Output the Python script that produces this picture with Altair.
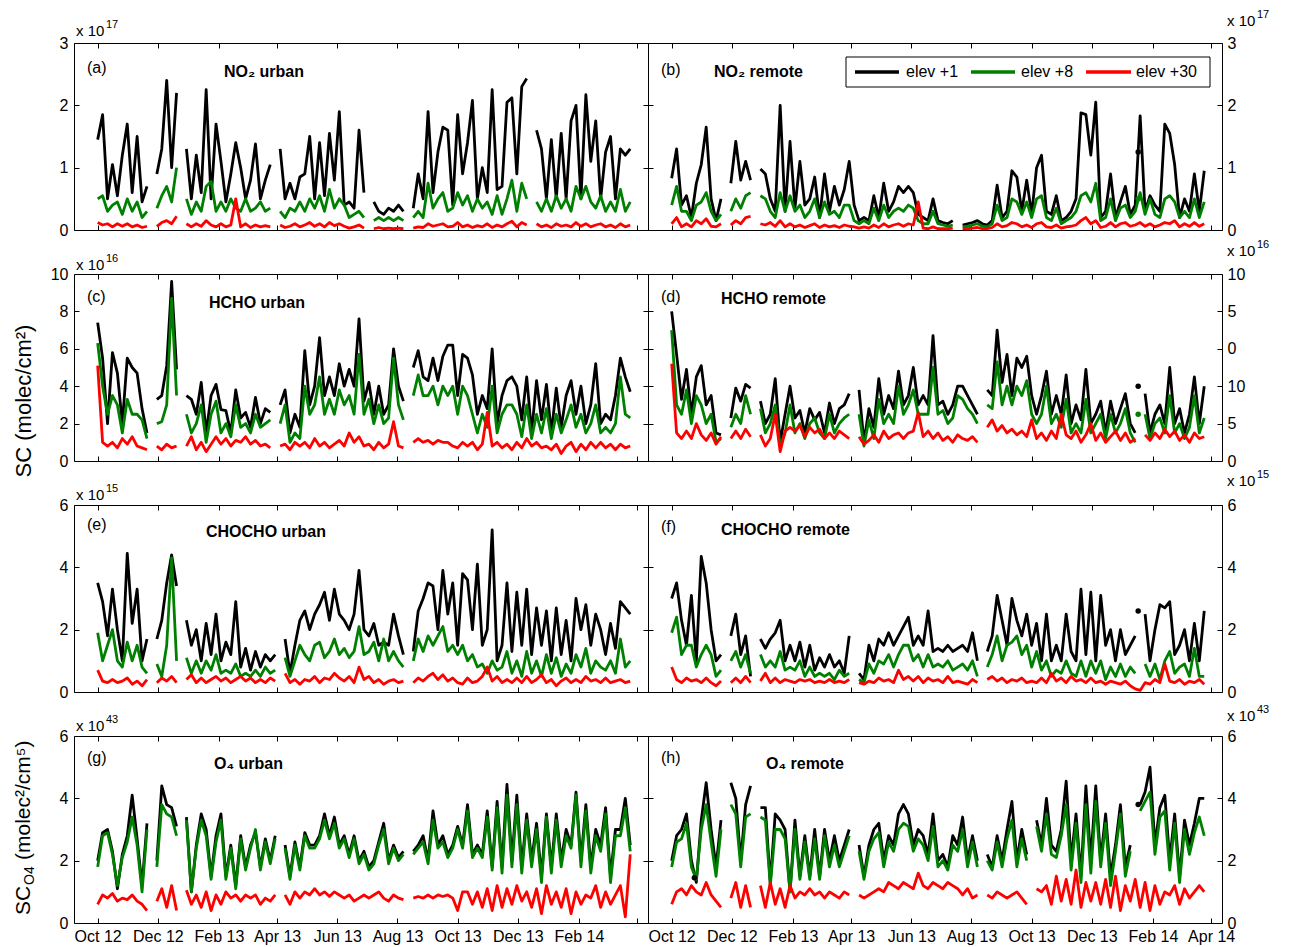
import altair as alt
import pandas as pd

N = None
DAYS = list(range(0, 545, 5))  # days since 1 Oct 2012, 5-day steps
TICK_DAYS = [0, 61, 123, 182, 243, 304, 365, 426, 488, 547]
TICK_LABELS = ["Oct 12", "Dec 12", "Feb 13", "Apr 13", "Jun 13", "Aug 13",
               "Oct 13", "Dec 13", "Feb 14", "Apr 14"]
SERIES_NAMES = ["elev +1", "elev +8", "elev +30"]
SERIES_COLORS = ["#000000", "#008000", "#ff0000"]

# ---------------- (a) NO2 urban  (x 1e17) ----------------
A_K = [1.45, 1.85, 0.5, 1.05, 0.55, 1.2, 1.7, 0.6, 1.5, 0.45, 0.7, N,
       0.9, 1.3, 2.4, 1.0, 2.2, N, 1.3, 0.5, 1.2, 0.6, 2.25, 0.5, 1.7,
       1.1, 0.45, 0.9, 1.4, 1.0, 0.5, 0.8, 1.38, 0.5, 0.8, 1.05, N,
       1.3, 0.5, 0.75, 0.5, 0.85, 0.9, 1.5, 0.5, 1.4, 0.55, 1.55, 0.8,
       1.9, 0.4, 0.45, 0.35, 1.6, 0.6, N, 0.45, 0.3, 0.25, 0.35, 0.3,
       0.4, 0.3, N, 0.35, 0.9, 0.5, 1.9, 0.6, 1.25, 1.65, 1.6, 0.4,
       1.85, 0.9, 1.4, 2.08, 0.5, 1.0, 0.6, 2.25, 0.65, 0.7, 2.05, 2.12,
       0.9, 2.3, 2.43, N, 1.6, 1.3, 0.5, 1.45, 0.5, 1.55, 0.5, 1.75, 2.0,
       0.5, 2.17, 1.1, 1.75, 0.5, 1.25, 1.5, 0.5, 1.3, 1.2, 1.3]
A_G = [0.5, 0.55, 0.3, 0.4, 0.45, 0.25, 0.5, 0.3, 0.45, 0.2, 0.3, N,
       0.35, 0.55, 0.7, 0.45, 1.0, N, 0.5, 0.25, 0.45, 0.3, 0.7, 0.78, 0.3,
       0.45, 0.3, 0.5, 0.35, 0.3, 0.5, 0.3, 0.35, 0.45, 0.3, 0.35, N,
       0.3, 0.2, 0.35, 0.3, 0.45, 0.3, 0.5, 0.35, 0.55, 0.3, 0.65, 0.35,
       0.5, 0.4, 0.2, 0.25, 0.3, 0.2, N, 0.15, 0.2, 0.15, 0.2, 0.15,
       0.2, 0.15, N, 0.2, 0.3, 0.2, 0.75, 0.35, 0.5, 0.6, 0.3, 0.35,
       0.6, 0.4, 0.55, 0.3, 0.5, 0.35, 0.45, 0.25, 0.55, 0.25, 0.5, 0.8,
       0.3, 0.75, 0.5, N, 0.45, 0.3, 0.5, 0.3, 0.55, 0.35, 0.5, 0.3, 0.7,
       0.5, 0.7, 0.45, 0.35, 0.55, 0.3, 0.45, 0.3, 0.65, 0.3, 0.45]
A_R = [0.12, 0.08, 0.1, 0.05, 0.1, 0.06, 0.1, 0.05, 0.08, 0.04, 0.06, N,
       0.06, 0.12, 0.15, 0.1, 0.22, N, 0.1, 0.05, 0.1, 0.06, 0.15, 0.08, 0.05,
       0.1, 0.05, 0.08, 0.5, 0.05, 0.1, 0.04, 0.08, 0.05, 0.07, 0.05, N,
       0.08, 0.04, 0.06, 0.1, 0.05, 0.08, 0.12, 0.06, 0.1, 0.05, 0.12, 0.07,
       0.1, 0.06, 0.03, 0.05, 0.08, 0.03, N, 0.02, 0.04, 0.02, 0.03, 0.02,
       0.03, 0.02, N, 0.03, 0.05, 0.04, 0.1, 0.06, 0.08, 0.1, 0.05, 0.06,
       0.12, 0.05, 0.08, 0.04, 0.07, 0.05, 0.1, 0.04, 0.08, 0.05, 0.1, 0.14,
       0.05, 0.12, 0.08, N, 0.1, 0.05, 0.08, 0.04, 0.1, 0.06, 0.08, 0.05, 0.12,
       0.06, 0.1, 0.05, 0.08, 0.1, 0.05, 0.08, 0.04, 0.1, 0.05, 0.08]

# ---------------- (b) NO2 remote (x 1e17) ----------------
B_K = [0.83, 1.3, 0.4, 0.55, 0.2, 0.75, 1.05, 1.65, 0.5, 0.15, 0.5, N,
       0.75, 1.42, 0.8, 1.1, 0.8, N, 0.98, 0.9, 0.5, 0.3, 2.0, 0.3, 1.42,
       0.35, 1.1, 0.4, 0.5, 0.85, 0.2, 0.9, 0.3, 0.7, 0.4, 0.65, 1.1,
       0.4, 0.15, 0.2, 0.15, 0.55, 0.2, 0.75, 0.3, 0.45, 0.7, 0.6, 0.7,
       0.6, 0.25, 0.2, 0.15, 0.5, 0.15, 0.12, 0.1, 0.15, N, 0.08, 0.1,
       0.12, 0.15, 0.1, 0.08, 0.15, 0.72, 0.2, 0.3, 0.95, 0.85, 0.3, 0.8,
       0.25, 1.0, 1.2, 0.3, 0.25, 0.55, 0.15, 0.2, 0.3, 0.5, 1.88, 1.85,
       1.2, 2.05, 0.2, 0.3, 0.9, 0.2, 0.45, 0.7, 0.25, 0.4, 1.83, 0.3, 0.55,
       0.4, 0.3, 1.7, 1.55, 1.05, 0.2, 0.5, 0.3, 0.9, 0.3, 0.95]
B_G = [0.4, 0.7, 0.3, 0.3, 0.15, 0.4, 0.45, 0.6, 0.3, 0.15, 0.25, N,
       0.3, 0.5, 0.35, 0.55, 0.6, N, 0.55, 0.5, 0.3, 0.2, 0.6, 0.3, 0.55,
       0.3, 0.4, 0.2, 0.3, 0.5, 0.2, 0.45, 0.25, 0.3, 0.2, 0.4, 0.4,
       0.15, 0.1, 0.15, 0.1, 0.35, 0.15, 0.4, 0.2, 0.3, 0.35, 0.3, 0.4,
       0.35, 0.15, 0.1, 0.1, 0.3, 0.1, 0.08, 0.06, 0.08, N, 0.05, 0.06,
       0.08, 0.1, 0.06, 0.05, 0.1, 0.4, 0.15, 0.2, 0.5, 0.45, 0.25, 0.45,
       0.2, 0.5, 0.55, 0.2, 0.15, 0.35, 0.1, 0.15, 0.2, 0.3, 0.55, 0.6,
       0.45, 0.75, 0.15, 0.2, 0.5, 0.15, 0.35, 0.4, 0.2, 0.3, 0.6, 0.25, 0.5,
       0.25, 0.2, 0.5, 0.55, 0.45, 0.2, 0.3, 0.2, 0.5, 0.2, 0.45]
B_R = [0.1, 0.2, 0.05, 0.1, 0.05, 0.15, 0.1, 0.18, 0.06, 0.05, 0.1, N,
       0.08, 0.15, 0.1, 0.2, 0.22, N, 0.1, 0.08, 0.12, 0.06, 0.15, 0.05, 0.1,
       0.05, 0.08, 0.04, 0.07, 0.1, 0.04, 0.08, 0.05, 0.07, 0.04, 0.08, 0.06,
       0.05, 0.03, 0.05, 0.03, 0.08, 0.04, 0.1, 0.05, 0.08, 0.1, 0.06, 0.1,
       0.08, 0.45, 0.03, 0.02, 0.05, 0.02, 0.02, 0.02, 0.03, N, 0.02, 0.02,
       0.03, 0.04, 0.02, 0.02, 0.04, 0.1, 0.05, 0.07, 0.12, 0.1, 0.05, 0.08,
       0.04, 0.1, 0.12, 0.05, 0.04, 0.08, 0.03, 0.05, 0.06, 0.08, 0.15, 0.2,
       0.1, 0.15, 0.04, 0.06, 0.12, 0.05, 0.1, 0.12, 0.06, 0.08, 0.12, 0.06, 0.1,
       0.05, 0.08, 0.12, 0.1, 0.15, 0.05, 0.1, 0.06, 0.12, 0.06, 0.1]

# ---------------- (c) HCHO urban (x 1e16) ----------------
C_K = [7.4, 5.5, 2.0, 5.8, 4.7, 2.0, 5.5, 5.0, 4.7, 2.8, 1.5, N,
       3.3, 3.5, 5.1, 9.6, 4.9, N, 3.5, 3.3, 2.5, 4.2, 1.5, 3.5, 4.1,
       2.75, 2.7, 1.5, 3.8, 2.3, 2.6, 1.8, 3.4, 2.0, 2.8, 2.6, N,
       3.0, 3.8, 1.5, 2.5, 1.8, 5.9, 3.0, 4.0, 6.6, 3.5, 4.5, 3.5,
       5.2, 4.0, 4.9, 4.0, 7.6, 3.2, 4.2, 2.5, 4.0, 2.5, 3.0, 6.0,
       4.0, 3.2, N, 5.0, 5.9, 4.5, 4.3, 5.5, 4.3, 5.6, 6.2, 6.2,
       3.5, 5.7, 5.5, 4.6, 2.5, 3.5, 2.8, 6.0, 2.0, 3.5, 4.3, 4.5,
       4.0, 2.2, 4.5, 1.5, 4.3, 2.2, 4.1, 1.5, 3.9, 1.8, 3.5, 4.3, 2.5,
       4.0, 2.0, 3.0, 5.2, 2.0, 2.5, 2.2, 3.5, 5.5, 4.5, 3.7]
C_G = [6.3, 4.0, 2.5, 3.5, 3.0, 1.5, 3.3, 2.5, 2.5, 2.2, 1.2, N,
       2.0, 2.1, 3.0, 8.7, 3.5, N, 2.5, 1.5, 2.0, 3.0, 1.0, 2.5, 3.2,
       1.5, 2.0, 1.3, 3.0, 1.8, 2.0, 1.5, 2.5, 1.8, 2.0, 2.2, N,
       2.0, 3.0, 1.0, 1.5, 1.2, 4.0, 2.5, 3.0, 4.5, 2.5, 3.3, 2.5,
       3.8, 3.0, 3.5, 2.5, 5.7, 2.5, 3.3, 2.0, 3.0, 2.0, 2.3, 5.5,
       3.0, 2.2, N, 3.5, 4.6, 3.5, 3.5, 4.0, 3.0, 4.0, 3.5, 4.0,
       2.5, 4.0, 3.5, 2.5, 1.5, 2.5, 1.8, 4.0, 1.5, 2.5, 3.0, 3.0,
       2.5, 1.3, 3.0, 1.2, 2.5, 1.5, 2.8, 1.2, 2.5, 1.5, 2.2, 3.0, 1.8,
       2.5, 1.5, 2.0, 3.0, 1.5, 1.8, 1.5, 2.0, 4.5, 2.5, 2.3]
C_R = [5.1, 1.0, 0.8, 1.0, 0.7, 1.2, 0.9, 1.3, 0.8, 0.7, 0.6, N,
       0.8, 0.6, 0.9, 0.7, 0.8, N, 0.8, 1.3, 0.6, 1.0, 0.5, 0.9, 1.3,
       0.9, 1.2, 0.8, 1.1, 1.0, 1.3, 0.9, 1.1, 0.8, 0.9, 0.7, N,
       0.8, 0.9, 0.6, 1.0, 0.8, 1.0, 0.7, 1.2, 0.8, 1.0, 0.7, 0.9,
       1.1, 0.8, 1.5, 1.0, 1.3, 0.8, 0.9, 0.6, 1.0, 0.7, 0.9, 2.1,
       0.8, 0.7, N, 1.0, 1.2, 1.0, 1.1, 0.9, 1.1, 1.0, 1.0, 0.8,
       0.7, 1.0, 0.8, 1.0, 0.6, 0.9, 2.6, 0.8, 1.0, 0.7, 0.9, 0.6,
       1.0, 0.7, 1.2, 0.8, 1.0, 0.7, 0.8, 0.6, 0.9, 0.4, 0.8, 1.0, 0.5,
       0.9, 0.6, 1.0, 0.7, 1.0, 0.7, 0.9, 0.6, 0.9, 0.7, 0.8]

# ---------------- (d) HCHO remote (plotted on 0-10 frame) ----------------
D_K = [8.0, 5.7, 3.3, 4.9, 2.5, 4.5, 5.1, 3.0, 3.5, 1.5, 1.4, N,
       2.3, 3.9, 3.2, 4.1, 3.9, N, 3.2, 2.0, 2.5, 4.4, 1.0, 2.5, 4.0,
       2.3, 2.7, 1.5, 2.8, 2.2, 2.6, 1.5, 3.1, 2.0, 2.8, 3.0, 3.6,
       N, 3.8, 1.0, 2.8, 1.8, 4.4, 2.5, 3.5, 2.8, 4.8, 3.0, 3.5,
       5.0, 3.0, 3.5, 3.0, 6.7, 3.0, 3.2, 2.5, 3.0, 4.0, 4.0, 3.5,
       3.0, 2.5, N, 3.8, 3.5, 7.0, 4.2, 5.7, 3.5, 5.5, 5.0, 5.6,
       3.5, 2.5, 3.5, 4.8, 2.5, 3.5, 2.5, 4.6, 2.0, 3.0, 2.2, 4.9,
       2.0, 2.5, 3.2, 1.5, 3.2, 2.0, 2.8, 3.6, 2.0, 1.5, N, 3.6, 1.5,
       2.5, 3.0, 2.0, 5.0, 2.0, 2.8, 1.5, 2.5, 4.5, 2.0, 4.0]
D_G = [7.0, 3.0, 2.5, 3.8, 2.0, 3.5, 3.0, 2.0, 2.5, 1.0, 1.2, N,
       1.8, 2.5, 2.0, 3.5, 2.5, N, 2.8, 1.5, 2.0, 3.0, 0.8, 1.5, 3.0,
       1.5, 2.0, 1.2, 2.0, 2.3, 1.5, 1.2, 2.5, 1.5, 2.0, 2.3, 2.5,
       N, 2.5, 0.8, 2.2, 1.2, 3.3, 2.0, 2.5, 2.0, 4.0, 2.5, 3.0,
       3.8, 2.5, 2.5, 2.5, 5.0, 2.5, 2.7, 2.0, 2.3, 3.5, 3.3, 2.8,
       2.5, 2.0, N, 3.0, 2.8, 5.3, 3.0, 4.0, 3.0, 4.0, 3.5, 4.3,
       2.5, 2.0, 2.5, 4.0, 2.0, 2.5, 1.8, 3.3, 1.5, 2.0, 1.5, 3.3,
       1.5, 2.0, 2.5, 1.2, 2.5, 1.5, 2.0, 2.8, 1.5, 1.0, N, 2.5, 1.2,
       2.0, 2.3, 1.5, 3.5, 1.5, 2.0, 1.2, 1.8, 3.5, 1.5, 2.3]
D_R = [5.2, 1.5, 1.2, 1.6, 1.2, 2.0, 1.4, 1.1, 1.5, 0.9, 1.3, N,
       1.2, 1.6, 1.2, 1.7, 1.3, N, 1.4, 0.8, 1.2, 2.5, 0.5, 1.6, 1.8,
       1.6, 1.9, 1.3, 1.8, 1.5, 1.7, 1.2, 1.5, 1.2, 1.6, 1.4, 1.2,
       N, 1.3, 0.9, 1.1, 1.4, 1.0, 1.6, 1.2, 1.4, 1.5, 1.2, 1.5,
       1.6, 2.6, 1.3, 1.6, 1.2, 1.5, 1.1, 1.3, 1.0, 1.4, 1.2, 1.1,
       1.3, 1.0, N, 1.8, 2.2, 1.6, 1.9, 1.5, 1.7, 1.4, 1.6, 1.3,
       2.2, 1.2, 1.5, 1.1, 1.6, 1.2, 2.5, 1.4, 1.2, 1.6, 1.0, 1.4,
       2.0, 1.1, 1.5, 1.0, 1.3, 1.6, 1.1, 1.5, 1.0, 1.2, N, 1.4, 1.1,
       1.5, 1.2, 1.7, 1.3, 1.6, 1.1, 1.4, 1.0, 1.5, 1.2, 1.3]

# ---------------- (e) CHOCHO urban (x 1e15) ----------------
E_K = [3.5, 2.9, 1.8, 3.3, 2.0, 1.0, 4.45, 2.2, 3.3, 1.0, 1.7, N,
       1.7, 2.3, 3.5, 4.4, 3.4, N, 2.3, 1.5, 2.0, 1.0, 2.2, 1.2, 2.5,
       1.0, 1.6, 1.2, 2.9, 0.8, 1.4, 0.7, 1.3, 0.8, 1.2, 1.0, 1.2,
       N, 1.7, 0.6, 1.5, 2.3, 2.6, 2.0, 2.5, 2.8, 3.2, 2.3, 3.3,
       2.5, 2.3, 2.0, 2.5, 3.9, 2.0, 1.8, 2.2, 1.5, 1.6, 1.5, 2.5,
       1.8, 1.2, N, 1.3, 2.6, 3.0, 3.5, 3.4, 2.0, 3.9, 2.5, 3.5,
       1.5, 3.8, 3.6, 2.0, 4.1, 1.5, 2.0, 5.2, 1.0, 1.5, 3.5, 1.3,
       3.2, 1.5, 3.3, 1.2, 2.7, 1.5, 2.6, 1.0, 2.7, 1.2, 2.3, 1.0, 3.0,
       2.0, 2.8, 1.5, 2.5, 2.0, 1.2, 2.2, 1.4, 2.9, 2.7, 2.5]
E_G = [1.9, 1.0, 1.5, 2.0, 1.0, 0.8, 1.6, 1.0, 1.5, 0.8, 0.6, N,
       0.9, 0.5, 1.5, 4.3, 1.0, N, 1.1, 0.6, 1.0, 0.6, 1.0, 0.7, 1.2,
       0.6, 0.7, 0.6, 0.9, 0.5, 0.6, 0.5, 0.7, 0.5, 0.8, 0.6, 0.7,
       N, 1.1, 0.5, 1.0, 1.5, 1.2, 1.0, 1.5, 1.6, 1.1, 1.3, 1.7,
       1.2, 1.4, 1.1, 1.3, 2.1, 1.2, 1.3, 1.6, 1.0, 1.7, 1.0, 1.3,
       1.0, 0.8, N, 1.0, 1.7, 1.3, 1.8, 1.5, 1.8, 2.1, 1.3, 1.5,
       1.2, 1.5, 1.0, 1.2, 0.8, 0.9, 0.6, 1.0, 0.7, 0.8, 1.3, 0.6,
       1.0, 0.5, 1.3, 0.6, 1.0, 0.5, 1.2, 0.6, 1.1, 0.5, 0.9, 0.6, 1.2,
       0.8, 1.4, 0.6, 1.0, 0.8, 0.7, 1.0, 0.6, 1.7, 0.8, 1.0]
E_R = [0.7, 0.35, 0.3, 0.4, 0.3, 0.35, 0.45, 0.25, 0.35, 0.2, 0.4, N,
       0.3, 0.45, 0.35, 0.5, 0.3, N, 0.4, 0.55, 0.3, 0.45, 0.3, 0.4, 0.5,
       0.35, 0.45, 0.3, 0.4, 0.5, 0.35, 0.45, 0.3, 0.4, 0.3, 0.45, 0.35,
       N, 0.6, 0.3, 0.4, 0.25, 0.4, 0.35, 0.5, 0.3, 0.45, 0.4, 0.6,
       0.45, 0.35, 0.5, 0.3, 0.8, 0.4, 0.5, 0.3, 0.4, 0.25, 0.35, 0.4,
       0.3, 0.35, N, 0.3, 0.45, 0.35, 0.5, 0.6, 0.4, 0.55, 0.35, 0.45,
       0.3, 0.25, 0.45, 0.3, 0.35, 0.5, 0.8, 0.35, 0.5, 0.3, 0.4, 0.3,
       0.45, 0.3, 0.5, 0.3, 0.4, 0.55, 0.3, 0.4, 0.2, 0.35, 0.45, 0.3, 0.4,
       0.3, 0.5, 0.35, 0.4, 0.3, 0.45, 0.3, 0.35, 0.4, 0.3, 0.35]

# ---------------- (f) CHOCHO remote (x 1e15) ----------------
F_K = [3.0, 3.5, 2.3, 1.5, 3.1, 1.0, 4.35, 3.5, 2.0, 1.0, 1.2, N,
       1.8, 2.5, 1.2, 1.8, 0.5, N, 1.7, 1.4, 1.7, 1.9, 2.3, 1.0, 1.5,
       1.0, 1.6, 0.8, 1.5, 0.7, 1.1, 0.8, 1.2, 0.8, 1.0, 0.6, 1.8,
       N, 0.6, 0.4, 1.5, 1.0, 1.7, 1.5, 1.9, 1.5, 1.8, 2.1, 2.4,
       1.5, 1.8, 1.5, 2.6, 1.3, 1.4, 1.3, 1.5, 1.3, 1.4, 1.5, 1.3,
       1.9, 1.0, N, 1.3, 1.8, 3.1, 2.3, 1.5, 3.0, 2.3, 1.8, 2.5,
       1.5, 2.2, 1.0, 2.5, 1.0, 1.5, 1.0, 2.5, 1.3, 1.0, 3.3, 1.2,
       3.2, 1.0, 3.1, 1.5, 2.0, 1.0, 2.0, 1.2, 1.5, 1.8, N, 2.5, 1.0,
       2.0, 2.8, 2.7, 2.9, 1.2, 1.5, 2.0, 1.0, 2.2, 1.0, 2.6]
F_G = [1.9, 2.4, 1.2, 1.5, 1.5, 0.8, 1.2, 1.5, 1.2, 0.5, 0.7, N,
       1.0, 1.3, 0.8, 1.2, 0.6, N, 1.2, 0.8, 1.0, 0.8, 1.3, 0.7, 0.8,
       0.7, 1.0, 0.5, 0.8, 0.5, 0.6, 0.5, 0.6, 0.4, 0.7, 0.5, 0.6,
       N, 0.4, 0.3, 0.9, 0.6, 1.0, 0.9, 1.2, 0.8, 1.2, 1.5, 1.5,
       1.0, 1.2, 0.8, 1.2, 0.8, 0.9, 0.8, 1.0, 0.7, 0.8, 0.9, 0.7,
       1.0, 0.5, N, 0.8, 1.2, 1.8, 1.0, 1.5, 1.6, 1.8, 1.2, 1.5,
       0.8, 1.3, 0.7, 1.0, 0.5, 0.7, 0.6, 1.0, 0.6, 0.5, 1.0, 0.5,
       1.0, 0.6, 1.0, 0.4, 0.8, 0.5, 0.9, 0.5, 0.8, 0.6, N, 0.9, 0.5,
       0.9, 0.4, 1.0, 1.3, 0.6, 0.8, 0.9, 0.5, 1.4, 0.5, 0.5]
F_R = [0.8, 0.4, 0.3, 0.45, 0.35, 0.4, 0.3, 0.45, 0.3, 0.2, 0.35, N,
       0.3, 0.45, 0.3, 0.5, 0.3, N, 0.35, 0.6, 0.3, 0.45, 0.3, 0.4, 0.35,
       0.3, 0.4, 0.35, 0.4, 0.3, 0.35, 0.3, 0.4, 0.3, 0.35, 0.3, 0.4,
       N, 0.3, 0.25, 0.35, 0.3, 0.45, 0.35, 0.4, 0.3, 0.7, 0.4, 0.5,
       0.35, 0.5, 0.3, 0.45, 0.35, 0.4, 0.3, 0.5, 0.3, 0.35, 0.3, 0.25,
       0.4, 0.3, N, 0.4, 0.5, 0.35, 0.45, 0.3, 0.4, 0.35, 0.45, 0.3,
       0.35, 0.3, 0.45, 0.3, 0.6, 0.35, 0.45, 0.3, 0.5, 0.35, 0.4, 0.3,
       0.45, 0.3, 0.35, 0.25, 0.35, 0.3, 0.25, 0.35, 0.2, 0.1, 0.05, 0.3, 0.25,
       0.4, 0.3, 0.9, 0.35, 0.3, 0.4, 0.25, 0.35, 0.3, 0.4, 0.25]

# ---------------- (g) O4 urban (x 1e43) ----------------
G_K = [2.0, 2.9, 3.0, 2.3, 1.1, 2.2, 2.8, 4.1, 2.7, 1.2, 3.2, N,
       2.0, 4.4, 3.8, 3.7, 3.1, N, 3.4, 1.0, 2.5, 3.5, 3.0, 1.5, 2.8,
       3.5, 1.5, 2.5, 1.2, 2.8, 1.8, 2.5, 2.9, 1.8, 2.7, 2.0, 2.8,
       N, 2.5, 1.5, 2.6, 1.8, 2.9, 2.5, 2.5, 2.8, 3.5, 2.8, 3.4,
       2.5, 2.8, 2.2, 2.8, 2.0, 2.3, 1.8, 2.0, 2.6, 3.2, 2.0, 2.5,
       2.1, 2.3, N, 2.3, 2.5, 2.8, 2.0, 3.6, 2.5, 2.8, 2.2, 2.5,
       3.1, 2.5, 3.8, 2.2, 2.5, 2.2, 3.6, 1.8, 3.9, 1.8, 4.45, 2.0,
       4.1, 1.8, 3.5, 2.0, 3.2, 1.5, 3.5, 1.8, 3.5, 2.0, 3.0, 2.5, 4.2,
       2.0, 3.8, 1.8, 3.0, 2.5, 3.7, 1.5, 3.0, 3.0, 4.0, 2.5]
G_G = [1.8, 2.8, 2.9, 2.2, 1.2, 2.1, 2.6, 3.4, 2.5, 1.0, 3.0, N,
       1.8, 3.8, 3.5, 3.4, 2.8, N, 3.3, 1.0, 2.4, 3.3, 2.8, 1.4, 2.6,
       3.3, 1.4, 2.4, 1.1, 2.7, 1.7, 2.4, 3.0, 1.7, 2.6, 1.9, 2.7,
       N, 2.4, 1.4, 2.5, 1.7, 2.8, 2.4, 2.4, 2.7, 3.3, 2.7, 3.2,
       2.4, 2.7, 2.1, 2.7, 1.9, 2.2, 1.7, 1.9, 2.5, 3.0, 1.9, 2.4,
       2.0, 2.2, N, 2.2, 2.4, 2.6, 1.9, 3.3, 2.4, 2.6, 2.1, 2.4,
       3.0, 2.4, 3.6, 2.1, 2.4, 2.1, 3.4, 1.7, 3.7, 1.6, 4.1, 1.8,
       3.8, 1.6, 3.3, 1.8, 3.0, 1.3, 3.4, 1.6, 3.3, 1.8, 2.8, 2.4, 4.1,
       1.8, 3.6, 1.6, 2.8, 2.3, 3.5, 1.3, 2.8, 2.8, 3.7, 2.3]
G_R = [0.6, 0.9, 0.8, 0.95, 0.7, 0.8, 0.75, 0.9, 0.7, 0.6, 0.4, N,
       0.7, 1.1, 0.5, 1.2, 0.4, N, 1.05, 0.6, 0.9, 0.5, 1.0, 0.4, 0.9,
       0.6, 1.0, 0.8, 0.9, 0.7, 0.9, 0.8, 0.9, 0.6, 0.8, 0.7, 0.9,
       N, 0.9, 0.6, 1.0, 0.8, 1.0, 0.9, 1.1, 0.9, 1.0, 0.85, 1.0,
       0.9, 0.8, 0.9, 0.7, 0.8, 0.9, 0.8, 0.9, 1.0, 0.8, 0.7, 0.9,
       0.8, 0.75, N, 0.8, 0.85, 0.8, 0.9, 0.8, 0.9, 0.85, 0.9, 0.8,
       0.4, 1.0, 1.0, 0.6, 1.0, 0.5, 1.1, 0.4, 1.2, 0.5, 1.1, 0.6,
       1.2, 0.7, 1.0, 0.5, 1.1, 0.3, 1.2, 0.6, 1.0, 0.5, 1.1, 0.3, 1.0,
       0.6, 0.9, 0.8, 1.2, 0.5, 1.0, 0.6, 0.9, 1.2, 0.2, 2.2]

# ---------------- (h) O4 remote (x 1e43) ----------------
H_K = [2.0, 2.8, 3.0, 3.5, 2.0, 1.3, 3.3, 4.5, 3.0, 1.8, 3.3, N,
       4.5, 4.0, 2.0, 3.8, 4.4, N, 3.7, 3.7, 1.3, 3.5, 3.3, 3.0, 1.0,
       3.3, 1.5, 2.8, 1.5, 3.0, 1.5, 3.0, 2.0, 2.8, 2.0, 2.5, 3.0,
       N, 2.5, 1.5, 2.5, 3.0, 3.2, 2.0, 2.8, 2.5, 3.5, 3.8, 3.5,
       2.5, 3.0, 2.8, 2.2, 3.5, 2.0, 2.2, 1.8, 2.8, 2.5, 3.4, 2.0,
       2.8, 2.0, N, 2.2, 1.8, 2.8, 2.0, 3.0, 3.9, 2.0, 3.0, 2.2,
       N, 3.3, 2.5, 4.0, 2.5, 2.3, 3.0, 4.55, 2.0, 3.5, 1.5, 4.4,
       2.0, 4.4, 2.0, 3.5, 1.5, 2.5, 3.8, 1.8, 2.5, N, 3.8, 4.2, 5.0,
       2.5, 3.7, 4.1, 2.0, 3.5, 1.5, 3.3, 2.5, 3.2, 4.0, 4.0]
H_G = [1.8, 2.6, 2.7, 3.2, 1.8, 1.4, 3.0, 3.8, 2.6, 1.5, 3.0, N,
       3.8, 3.5, 1.8, 3.4, 3.5, N, 3.4, 3.3, 1.2, 3.0, 3.0, 2.7, 1.0,
       3.0, 1.4, 2.6, 1.4, 2.7, 1.4, 2.8, 1.8, 2.5, 1.8, 2.3, 2.8,
       N, 2.3, 1.4, 2.3, 2.7, 2.9, 1.8, 2.6, 2.3, 3.0, 3.2, 3.1,
       2.3, 2.7, 2.5, 2.0, 3.1, 1.8, 2.0, 1.7, 2.5, 2.3, 3.0, 1.8,
       2.6, 1.8, N, 2.0, 1.7, 2.6, 1.8, 2.7, 3.3, 1.8, 2.7, 2.0,
       N, 3.1, 2.3, 3.5, 2.2, 2.1, 2.8, 3.8, 1.7, 3.2, 1.3, 3.8,
       1.6, 3.9, 1.8, 3.2, 1.2, 2.3, 3.5, 1.5, 2.3, N, 3.6, 3.9, 4.2,
       2.2, 3.4, 3.6, 1.7, 3.2, 1.3, 3.0, 2.2, 2.9, 3.4, 2.8]
H_R = [0.6, 1.0, 1.1, 0.9, 1.2, 1.0, 0.9, 1.3, 0.9, 0.7, 0.5, N,
       0.8, 1.3, 0.5, 1.2, 0.5, N, 1.2, 0.5, 1.3, 0.6, 1.1, 0.5, 1.2,
       0.8, 1.0, 0.9, 1.1, 0.9, 1.0, 0.8, 1.0, 0.9, 0.8, 1.0, 0.9,
       N, 0.9, 0.8, 0.9, 1.0, 1.1, 1.0, 1.3, 1.2, 1.1, 1.3, 1.2,
       1.1, 1.6, 1.2, 1.1, 1.3, 1.2, 1.1, 1.3, 1.2, 1.1, 0.9, 1.1,
       0.8, 0.9, N, 0.9, 0.8, 1.0, 0.9, 0.8, 0.9, 1.0, 0.8, 0.6,
       N, 1.1, 1.0, 1.2, 0.6, 1.5, 0.7, 1.4, 0.6, 1.7, 0.5, 1.3,
       0.7, 1.3, 0.6, 1.4, 0.5, 1.5, 0.4, 1.2, 0.7, 1.4, 0.5, 1.3, 0.4,
       1.2, 0.6, 1.0, 0.9, 1.2, 0.6, 1.1, 0.8, 1.0, 1.2, 1.0]

# isolated single measurements (day, value, series index)
DOTS = {
    "b": [(473, 1.25, 0), (473, 0.5, 1)],
    "d": [(473, 4.0, 0), (473, 2.5, 1)],
    "f": [(473, 2.6, 0)],
    "h": [(23, 1.45, 0), (473, 3.8, 0)],
}

D_YLABELS = ["0", "5", "10", "0", "5", "10"]

PANELS = [
    # key, tag, title, K, G, R, ymax, yticks, ylabels, exponent, col
    ("a", "(a)", "NO\u2082 urban", A_K, A_G, A_R, 3, [0, 1, 2, 3], None, "17", 0),
    ("b", "(b)", "NO\u2082 remote", B_K, B_G, B_R, 3, [0, 1, 2, 3], None, "17", 1),
    ("c", "(c)", "HCHO urban", C_K, C_G, C_R, 10, [0, 2, 4, 6, 8, 10], None, "16", 0),
    ("d", "(d)", "HCHO remote", D_K, D_G, D_R, 10, [0, 2, 4, 6, 8, 10], D_YLABELS, "16", 1),
    ("e", "(e)", "CHOCHO urban", E_K, E_G, E_R, 6, [0, 2, 4, 6], None, "15", 0),
    ("f", "(f)", "CHOCHO remote", F_K, F_G, F_R, 6, [0, 2, 4, 6], None, "15", 1),
    ("g", "(g)", "O\u2084 urban", G_K, G_G, G_R, 6, [0, 2, 4, 6], None, "43", 0),
    ("h", "(h)", "O\u2084 remote", H_K, H_G, H_R, 6, [0, 2, 4, 6], None, "43", 1),
]
TITLE_POS = {"a": (150, 29), "b": (66, 29), "c": (135, 29), "d": (73, 25),
             "e": (132, 27), "f": (73, 25), "g": (140, 28), "h": (118, 28)}
TAG_POS = {"a": (13, 25), "b": (13, 27), "c": (13, 23), "d": (13, 23),
           "e": (13, 20), "f": (13, 22), "g": (13, 22), "h": (13, 22)}
EXP_Y = {0: (-7, -17), 1: (-4, -18), 2: (-5, -19), 3: (-5, -15)}

FONT = "Liberation Sans"
W, H = 574, 187
X_DOMAIN = [-24, 558]
ONE = pd.DataFrame({"o": [0]})


def fit(v):
    v = list(v)
    return (v + [None] * len(DAYS))[:len(DAYS)]


def ternary(values, labels):
    expr = ""
    for v, l in zip(values, labels):
        expr += f"datum.value == {v} ? '{l}' : "
    return expr + "''"


def txt(text, x, y, size=16, bold=False, align="left", angle=0, baseline="middle"):
    kw = dict(text=text, font=FONT, fontSize=size, color="black", align=align,
              baseline=baseline)
    if bold:
        kw["fontWeight"] = "bold"
    if angle:
        kw["angle"] = angle
    return alt.Chart(ONE).mark_text(**kw).encode(x=alt.value(x), y=alt.value(y))


def make_panel(spec, row):
    key, tag, title, K, G, R, ymax, yticks, ylabels, expo, col = spec
    df = pd.DataFrame({"day": DAYS, "k": fit(K), "g": fit(G), "r": fit(R)})
    xs = alt.Scale(domain=X_DOMAIN, nice=False, zero=False)
    ys = alt.Scale(domain=[0, ymax], nice=False, zero=True)
    bottom = row == 3
    main_side = "left" if col == 0 else "right"
    other_side = "right" if col == 0 else "left"

    if bottom:
        labs = TICK_LABELS if col == 1 else TICK_LABELS[:-1] + [""]
        xaxis_b = alt.Axis(orient="bottom", values=TICK_DAYS, labelExpr=ternary(TICK_DAYS, labs),
                           offset=-5, tickSize=5, title=None, labelPadding=5,
                           labelFlush=False, labelOverlap=False)
    else:
        xaxis_b = alt.Axis(orient="bottom", values=TICK_DAYS, labels=False,
                           offset=-5, tickSize=5, title=None)
    xaxis_t = alt.Axis(orient="top", values=TICK_DAYS, labels=False,
                       offset=-5, tickSize=5, title=None)
    ykw = dict(orient=main_side, values=yticks, offset=-5, tickSize=5, title=None,
               labelPadding=6 if col == 0 else 5, labelOverlap=False, format="d")
    if ylabels:
        ykw["labelExpr"] = ternary(yticks, ylabels)
    yaxis_main = alt.Axis(**ykw)
    yaxis_other = alt.Axis(orient=other_side, values=yticks, labels=False,
                           offset=-5, tickSize=5, title=None)

    base = alt.Chart(df)
    sw = 2.8
    lk = base.mark_line(color=SERIES_COLORS[0], strokeWidth=sw, strokeJoin="round").encode(
        x=alt.X("day:Q", scale=xs, axis=xaxis_b),
        y=alt.Y("k:Q", scale=ys, axis=yaxis_main))
    lg = base.mark_line(color=SERIES_COLORS[1], strokeWidth=sw, strokeJoin="round").encode(
        x=alt.X("day:Q", scale=xs, axis=xaxis_t),
        y=alt.Y("g:Q", scale=ys, axis=yaxis_other))
    lr = base.mark_line(color=SERIES_COLORS[2], strokeWidth=sw, strokeJoin="round").encode(
        x=alt.X("day:Q", scale=xs, axis=None),
        y=alt.Y("r:Q", scale=ys, axis=None))
    layers = [lk, lg, lr]

    if key in DOTS:
        dd = pd.DataFrame({"day": [d[0] for d in DOTS[key]],
                           "v": [d[1] for d in DOTS[key]],
                           "c": [SERIES_COLORS[d[2]] for d in DOTS[key]]})
        layers.append(alt.Chart(dd).mark_circle(size=30, opacity=1).encode(
            x=alt.X("day:Q", scale=xs, axis=None),
            y=alt.Y("v:Q", scale=ys, axis=None),
            color=alt.Color("c:N", scale=None)))

    tx, ty = TAG_POS[key]
    layers.append(txt(tag, tx, ty, size=16))
    hx, hy = TITLE_POS[key]
    layers.append(txt(title, hx, hy, size=16, bold=True))

    ey = EXP_Y[row][col]
    ex = 2 if col == 0 else W + 5
    layers.append(txt("x 10", ex, ey, size=15, baseline="alphabetic"))
    layers.append(txt(expo, ex + 30, ey - 8, size=11, baseline="alphabetic"))

    if key == "b":
        layers.append(alt.Chart(ONE).mark_rect(fill="white", stroke="black", strokeWidth=1).encode(
            x=alt.value(198), x2=alt.value(562), y=alt.value(14), y2=alt.value(44)))
        lx = [(207, 251, 258), (323, 367, 373), (438, 483, 488)]
        for (x1, x2, xt), name, colr in zip(lx, SERIES_NAMES, SERIES_COLORS):
            layers.append(alt.Chart(ONE).mark_rule(color=colr, strokeWidth=3.5).encode(
                x=alt.value(x1), x2=alt.value(x2), y=alt.value(29)))
            layers.append(txt(name, xt, 29, size=16))

    if key == "c":
        layers.append(txt("SC (molec/cm\u00b2)", -50, 127, size=22, align="center", angle=270))
    if key == "g":
        layers.append(txt("SC", -50, 179, size=21, align="left", angle=270))
        layers.append(txt("O4", -44, 149, size=14, align="left", angle=270))
        layers.append(txt("(molec\u00b2/cm\u2075)", -50, 124, size=21, align="left", angle=270))

    return alt.layer(*layers).resolve_axis(x="independent", y="independent").properties(
        width=W, height=H)


panels = [make_panel(PANELS[i], i // 2) for i in range(8)]

chart = alt.concat(*panels, columns=2, spacing={"row": 44, "column": 0}, bounds="flush").properties(
    padding={"left": 12, "top": 8, "right": 5, "bottom": 5}
).configure_view(stroke="black", strokeWidth=1).configure_axis(
    labelFont=FONT, labelFontSize=16, labelColor="black", tickColor="black",
    tickWidth=1, domain=False, grid=False
)

chart.save("out.html", embed_options={"renderer": "svg", "actions": False})
